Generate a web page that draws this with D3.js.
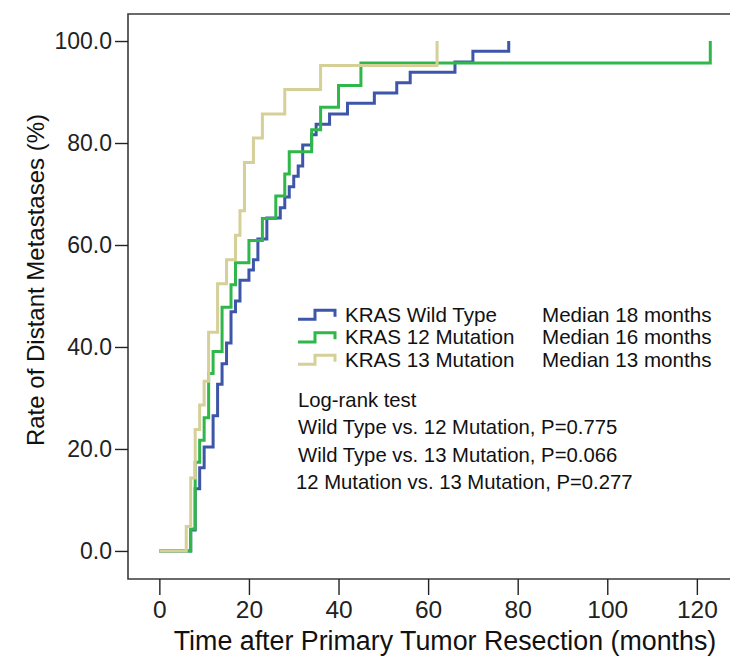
<!DOCTYPE html>
<html>
<head>
<meta charset="utf-8">
<script src="https://cdn.jsdelivr.net/npm/d3@7"></script>
<style>
  body { margin: 0; background: #fff; }
  svg { font-family: Arial, "Liberation Sans", sans-serif; }
</style>
</head>
<body>
<svg id="chart" width="748" height="661"></svg>
<script>
// cumulative rate of distant metastases (months, %)
var wildTypeTime = [0, 7, 8, 9, 10, 12, 13, 14, 15, 16, 17, 18, 20, 21, 22, 24, 27, 28, 29, 30, 31, 32, 34, 35, 38, 42, 48, 53, 56, 66, 70, 78];
var wildTypeRate = [0, 4.1, 12.2, 16.3, 20.4, 26.5, 32.7, 36.7, 40.8, 46.9, 49.0, 53.1, 55.1, 57.1, 61.2, 65.3, 67.3, 69.4, 71.4, 73.5, 75.5, 79.6, 81.6, 83.7, 85.7, 87.8, 89.8, 91.8, 93.9, 95.9, 98.0, 100];

var mut12Time = [0, 7, 8, 9, 10, 11, 12, 14, 16, 17, 20, 23, 26, 28, 29, 34, 36, 40, 45, 123];
var mut12Rate = [0, 4.3, 17.4, 21.7, 26.1, 34.8, 39.1, 47.8, 52.2, 56.5, 60.9, 65.2, 69.6, 73.9, 78.3, 82.6, 87.0, 91.3, 95.7, 100];

var mut13Time = [0, 6, 7, 8, 9, 10, 11, 13, 15, 17, 18, 19, 21, 23, 28, 36, 62];
var mut13Rate = [0, 4.8, 14.3, 23.8, 28.6, 33.3, 42.9, 52.4, 57.1, 61.9, 66.7, 76.2, 81.0, 85.7, 90.5, 95.2, 100];

var seriesNames = ['KRAS Wild Type', 'KRAS 12 Mutation', 'KRAS 13 Mutation'];
var medians = ['Median 18 months', 'Median 16 months', 'Median 13 months'];
var colors = ['#3d56a9', '#2fb74a', '#d5cf98'];

var xTicks = [0, 20, 40, 60, 80, 100, 120];
var yTicks = [0, 20, 40, 60, 80, 100];

var logRank = [
  'Log-rank test',
  'Wild Type vs. 12 Mutation, P=0.775',
  'Wild Type vs. 13 Mutation, P=0.066',
  '12 Mutation vs. 13 Mutation, P=0.277'
];

var svg = d3.select('#chart');

var xScale = d3.scaleLinear().domain([-7, 127.4]).range([128, 730]);
var yScale = d3.scaleLinear().domain([-5.5, 105.3]).range([579, 14]);

var x0 = xScale.range()[0], x1 = xScale.range()[1];
var yTop = yScale.range()[1], yBot = yScale.range()[0];

// frame: top, left and bottom lines
svg.append('path')
  .attr('d', `M${x1},${yTop}H${x0}V${yBot}H${x1}`)
  .attr('fill', 'none')
  .attr('stroke', '#3a3a3a')
  .attr('stroke-width', 1.6);

var xAxis = d3.axisBottom(xScale).tickValues(xTicks).tickSize(16).tickPadding(6);
var gx = svg.append('g').attr('transform', `translate(0, ${yBot})`).call(xAxis);
gx.select('.domain').remove();
gx.selectAll('line').attr('stroke', '#222').attr('stroke-width', 1.4);
gx.selectAll('text').attr('font-size', 24.5).attr('fill', '#222').attr('font-family', null);

var yAxis = d3.axisLeft(yScale).tickValues(yTicks).tickFormat(d3.format('.1f')).tickSize(13).tickPadding(3);
var gy = svg.append('g').attr('transform', `translate(${x0}, 0)`).call(yAxis);
gy.select('.domain').remove();
gy.selectAll('line').attr('stroke', '#222').attr('stroke-width', 1.4);
gy.selectAll('text').attr('font-size', 23).attr('fill', '#222').attr('font-family', null);

// curves
var line = d3.line()
  .x(d => xScale(d[0]))
  .y(d => yScale(d[1]))
  .curve(d3.curveStepAfter);

var curves = [
  d3.zip(wildTypeTime, wildTypeRate),
  d3.zip(mut12Time, mut12Rate),
  d3.zip(mut13Time, mut13Rate)
];

curves.forEach(function(pts, i) {
  svg.append('path')
    .datum(pts)
    .attr('d', line)
    .attr('fill', 'none')
    .attr('stroke', colors[i])
    .attr('stroke-width', 3);
});

// legend
var legendY = [321.7, 344.3, 366.7];
seriesNames.forEach(function(name, i) {
  var b = legendY[i];
  svg.append('path')
    .attr('d', `M298,${b - 2.4}H315V${b - 11.5}H335V${b - 5}`)
    .attr('fill', 'none')
    .attr('stroke', colors[i])
    .attr('stroke-width', 3);
  svg.append('text').attr('x', 345).attr('y', b)
    .attr('font-size', 20.6).attr('fill', '#111').text(name);
  svg.append('text').attr('x', 542).attr('y', b)
    .attr('font-size', 20.6).attr('fill', '#111').text(medians[i]);
});

var logY = [406.7, 434, 461.7, 488.5];
logRank.forEach(function(t, i) {
  svg.append('text')
    .attr('x', i == 3 ? 296 : 298)
    .attr('y', logY[i])
    .attr('font-size', 20.3)
    .attr('fill', '#111')
    .text(t);
});

// axis titles
svg.append('text')
  .attr('x', 445).attr('y', 650)
  .attr('text-anchor', 'middle')
  .attr('font-size', 26.8)
  .attr('fill', '#111')
  .text('Time after Primary Tumor Resection (months)');

svg.append('text')
  .attr('transform', 'translate(44, 280) rotate(-90)')
  .attr('text-anchor', 'middle')
  .attr('font-size', 24)
  .attr('fill', '#111')
  .text('Rate of Distant Metastases (%)');
</script>
</body>
</html>
